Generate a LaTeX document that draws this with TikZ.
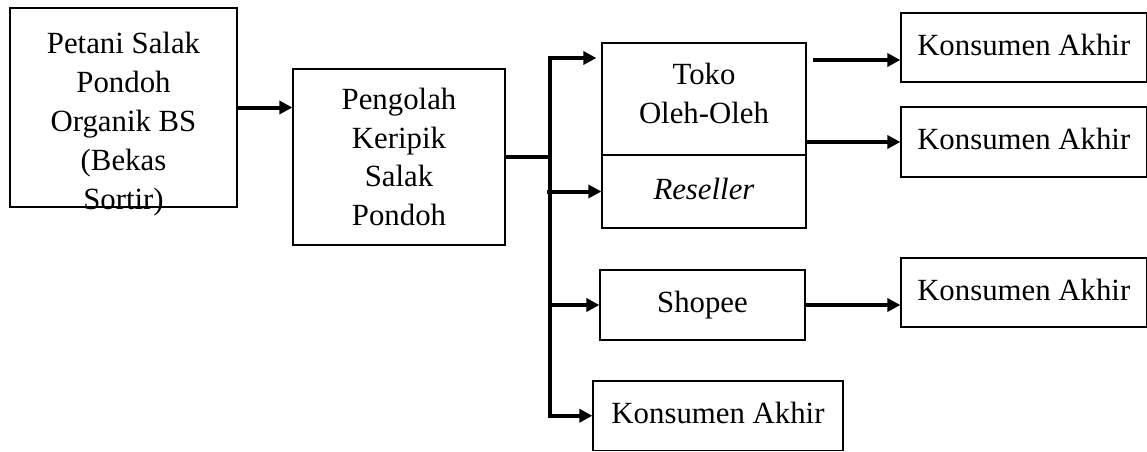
\documentclass[tikz,border=0pt]{standalone}
\usepackage{fontspec}
\setmainfont{Liberation Serif}
\usetikzlibrary{arrows.meta}

\begin{document}
\begin{tikzpicture}[x=0.5pt,y=-0.5pt]
	\tikzstyle{box} = [rectangle,draw,line width=0.6pt,inner sep=0pt,align=center,font=\fontsize{15.4}{19.4}\selectfont]
	\tikzstyle{kbox} = [box,minimum width=122.75pt,minimum height=34.5pt,text depth=0.3em]
	\tikzstyle{flow} = [-{Triangle[length=6.5pt,width=6.5pt]},line width=2pt]
	
		\useasboundingbox (0,0) rectangle (1147,451);
		
		\node[box,minimum width=113.5pt,minimum height=99.5pt] (petani) at (123.5,107.5) {};
		\node[anchor=north,inner sep=0pt,align=center,font=\fontsize{15.4}{19.5}\selectfont] (petanitxt) at ([yshift=-12pt]petani.north) {Petani Salak\\Pondoh\\Organik BS\\(Bekas\\Sortir)};
		\node[box,minimum width=106pt,minimum height=88pt] (pengolah) at (399,157) {Pengolah\\Keripik\\Salak\\Pondoh};
		
		\node[box,minimum width=102pt,minimum height=56pt,text depth=6pt] (toko) at (704,99) {Toko\\Oleh-Oleh};
		\node[box,minimum width=102pt,minimum height=36.5pt,text depth=0.3em] (reseller) at (704,191.5) {\textit{Reseller}};
		\node[box,minimum width=102.5pt,minimum height=35pt,text depth=0.3em] (shopee) at (702.5,305) {Shopee};
		\node[kbox,minimum width=125pt,minimum height=34.75pt] (k4) at (718,415.75) {Konsumen Akhir};
		
		\node[kbox] (k1) at (1023.75,47.5) {Konsumen Akhir};
		\node[kbox,minimum height=35pt] (k2) at (1023.75,142) {Konsumen Akhir};
		\node[kbox] (k3) at (1023.75,292.5) {Konsumen Akhir};
		
		\coordinate (split) at (550,157);
		\coordinate (bustop) at (550,58);
		\coordinate (busend) at (550,415.75);
		\coordinate (tokoout) at (813,60);
		
		\draw[flow] (petani.east) -- (petani.east -| pengolah.west);
		\draw[line width=2pt] (pengolah.east) -- ([xshift=1pt]split);
		\draw[flow] (split) -- (bustop) -- ([xshift=-2.5pt]bustop -| toko.west);
		\draw[flow] (split) -- (busend) -- (busend -| k4.west);
		\draw[flow] ([xshift=-1.5pt]split |- reseller.west) -- (reseller.west);
		\draw[flow] (split |- shopee.west) -- (shopee.west);
		
		\draw[flow] (tokoout) -- (tokoout -| k1.west);
		\draw[flow] (toko.east |- k2.west) -- (k2.west);
		\draw[flow] (shopee.east) -- (shopee.east -| k3.west);
		
\end{tikzpicture}
\end{document}
